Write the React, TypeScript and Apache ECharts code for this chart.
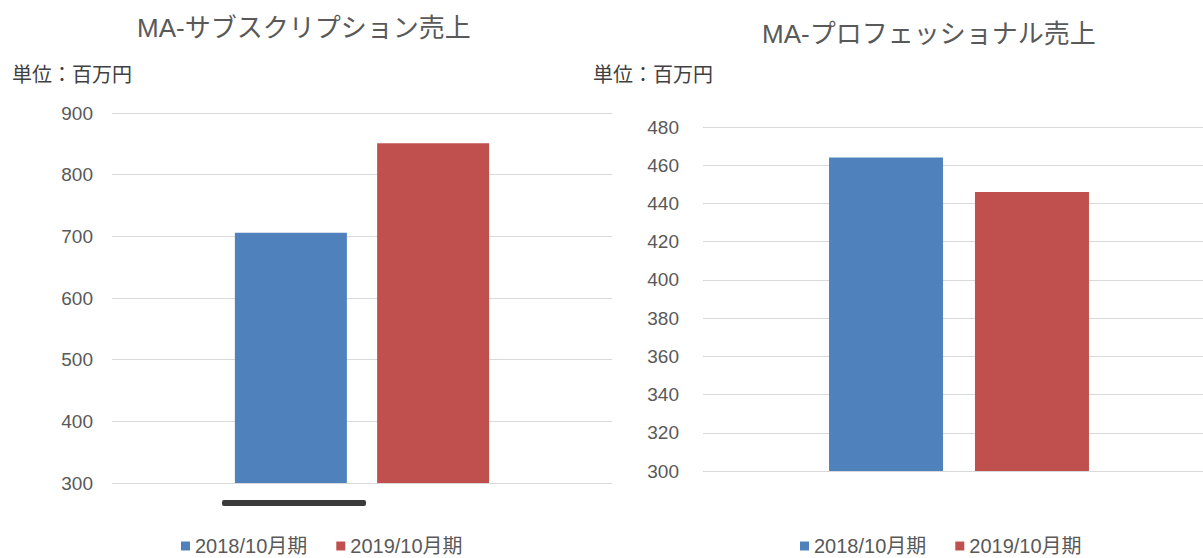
import React, { useEffect, useRef } from "react";
import * as echarts from "echarts";

const seriesNames = ["2018/10月期", "2019/10月期"];
const category = ["期"];
const subscriptionValues = [706, 851];
const professionalValues = [464, 446];
const leftTicks = { min: 300, max: 900, interval: 100 };
const rightTicks = { min: 300, max: 480, interval: 20 };
const titles = ["MA-サブスクリプション売上", "MA-プロフェッショナル売上"];
const unitLabel = "単位：百万円";
const colors = ["#4f81bd", "#c0504d"];

const FONT = '"Liberation Sans", "Noto Sans CJK JP", sans-serif';

export default function App() {
  const ref = useRef<HTMLDivElement>(null);
  useEffect(() => {
    if (!ref.current) return;
    const chart = echarts.init(ref.current, null, { renderer: "svg" });
    const yAxisCommon = {
      type: "value",
      axisLine: { show: false },
      axisTick: { show: false },
      splitLine: { lineStyle: { color: "#d9d9d9", width: 1 } },
      axisLabel: { color: "#595959", fontSize: 19, fontFamily: FONT },
    };
    const xAxisCommon = {
      type: "category",
      data: category,
      axisLine: { show: false },
      axisTick: { show: false },
      axisLabel: { show: false },
    };
    const legendCommon = {
      icon: "rect",
      itemWidth: 9,
      itemHeight: 9,
      itemGap: 29,
      textStyle: { color: "#595959", fontSize: 20, fontFamily: FONT },
      data: seriesNames,
    };
    const titleStyle = { color: "#595959", fontSize: 26, fontWeight: "normal", fontFamily: FONT };
    chart.setOption({
      animation: false,
      color: colors,
      title: [
        { text: titles[0], left: 132, top: 10, textStyle: titleStyle },
        { text: titles[1], left: 757, top: 16, textStyle: titleStyle },
        {
          text: unitLabel,
          left: 7,
          top: 60,
          textStyle: { color: "#404040", fontSize: 20, fontWeight: "normal", fontFamily: FONT },
        },
        {
          text: unitLabel,
          left: 588,
          top: 60,
          textStyle: { color: "#404040", fontSize: 20, fontWeight: "normal", fontFamily: FONT },
        },
      ],
      legend: [
        { ...legendCommon, left: 176, top: 531 },
        { ...legendCommon, left: 795, top: 531 },
      ],
      grid: [
        { left: 112, top: 113, width: 500, height: 370 },
        { left: 703, top: 127, width: 512, height: 344 },
      ],
      xAxis: [
        { ...xAxisCommon, gridIndex: 0 },
        { ...xAxisCommon, gridIndex: 1 },
      ],
      yAxis: [
        { ...yAxisCommon, gridIndex: 0, ...leftTicks, axisLabel: { ...yAxisCommon.axisLabel, margin: 19 } },
        { ...yAxisCommon, gridIndex: 1, ...rightTicks, axisLabel: { ...yAxisCommon.axisLabel, margin: 24 } },
      ],
      series: [
        {
          name: seriesNames[0],
          type: "bar",
          xAxisIndex: 0,
          yAxisIndex: 0,
          data: [subscriptionValues[0]],
          barWidth: 112,
          barGap: "27%",
          itemStyle: { color: colors[0] },
        },
        {
          name: seriesNames[1],
          type: "bar",
          xAxisIndex: 0,
          yAxisIndex: 0,
          data: [subscriptionValues[1]],
          barWidth: 112,
          barGap: "27%",
          itemStyle: { color: colors[1] },
        },
        {
          name: seriesNames[0],
          type: "bar",
          xAxisIndex: 1,
          yAxisIndex: 1,
          data: [professionalValues[0]],
          barWidth: 114,
          barGap: "28%",
          itemStyle: { color: colors[0] },
        },
        {
          name: seriesNames[1],
          type: "bar",
          xAxisIndex: 1,
          yAxisIndex: 1,
          data: [professionalValues[1]],
          barWidth: 114,
          barGap: "28%",
          itemStyle: { color: colors[1] },
        },
      ],
      graphic: [
        {
          type: "rect",
          shape: { x: 222, y: 500, width: 144, height: 6, r: 2 },
          style: { fill: "#3a3a3a" },
        },
      ],
    });
    return () => chart.dispose();
  }, []);
  return (
    <div
      style={{ position: "absolute", left: 0, top: 0, width: 1203, height: 558, overflow: "hidden", background: "#fff" }}
    >
      <div ref={ref} style={{ width: 1220, height: 558 }} />
    </div>
  );
}
